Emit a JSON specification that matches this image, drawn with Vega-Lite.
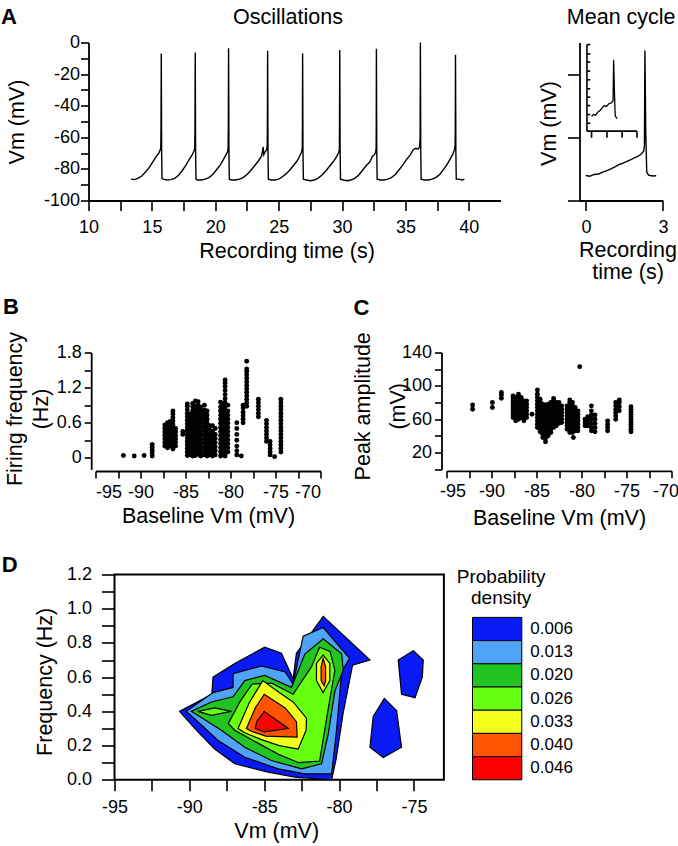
{
"$schema": "https://vega.github.io/schema/vega-lite/v6.json",
"padding": {"left": 0.5, "top": 5.5, "right": 0, "bottom": 0},
"background": "white",
"config": {
  "view": {"stroke": null},
  "font": "Liberation Sans",
  "axis": {"grid": false, "domainColor": "black", "domainWidth": 1.8, "tickColor": "black", "tickWidth": 1.6, "labelColor": "black", "titleColor": "black", "labelFontSize": 18, "titleFontSize": 21.5, "titleFontWeight": "normal", "labelFont": "Liberation Sans", "titleFont": "Liberation Sans", "labelOverlap": false, "labelFlush": false, "labelBound": false},
  "title": {"font": "Liberation Sans", "fontSize": 21.5, "fontWeight": "normal", "color": "black"}
},
"datasets": {
  "trace": [
{"t":13.35,"v":-86.5},{"t":13.6,"v":-86.8},{"t":13.9,"v":-86},{"t":14.2,"v":-84.5},{"t":14.5,"v":-82},{"t":14.8,"v":-79},{"t":15.0,"v":-76.5},{"t":15.2,"v":-74},{"t":15.4,"v":-71.5},{"t":15.55,"v":-70},{"t":15.65,"v":-68},{"t":15.7,"v":-66.5},{"t":15.72,"v":-55},{"t":15.74,"v":-7},{"t":15.77,"v":-70},{"t":15.8,"v":-86},
{"t":15.9,"v":-86.5},{"t":16.2,"v":-87},{"t":16.5,"v":-86.8},{"t":16.8,"v":-86},{"t":17.1,"v":-84},{"t":17.4,"v":-81},{"t":17.7,"v":-77.5},{"t":17.95,"v":-74},{"t":18.15,"v":-71.5},{"t":18.3,"v":-69},{"t":18.38,"v":-67},{"t":18.4,"v":-55},{"t":18.42,"v":-6.3},{"t":18.45,"v":-70},{"t":18.48,"v":-86.5},
{"t":18.6,"v":-87},{"t":18.9,"v":-87},{"t":19.2,"v":-86.5},{"t":19.5,"v":-85.5},{"t":19.8,"v":-83.5},{"t":20.1,"v":-80.5},{"t":20.4,"v":-77.5},{"t":20.65,"v":-74},{"t":20.85,"v":-71},{"t":20.98,"v":-69},{"t":21.01,"v":-67},{"t":21.03,"v":-55},{"t":21.05,"v":-3.6},{"t":21.08,"v":-70},{"t":21.11,"v":-86.5},
{"t":21.3,"v":-87},{"t":21.6,"v":-87},{"t":21.9,"v":-86.5},{"t":22.2,"v":-85.5},{"t":22.5,"v":-83.5},{"t":22.8,"v":-81},{"t":23.1,"v":-78},{"t":23.4,"v":-75},{"t":23.65,"v":-72},{"t":23.78,"v":-66},{"t":23.83,"v":-71},{"t":23.95,"v":-69},{"t":24.05,"v":-68},{"t":24.1,"v":-65},{"t":24.11,"v":-55},{"t":24.13,"v":-5.3},{"t":24.16,"v":-70},{"t":24.19,"v":-86.5},
{"t":24.4,"v":-87},{"t":24.7,"v":-87},{"t":25.0,"v":-86.5},{"t":25.3,"v":-85},{"t":25.6,"v":-83},{"t":25.9,"v":-80.5},{"t":26.2,"v":-77.5},{"t":26.45,"v":-75},{"t":26.65,"v":-72},{"t":26.8,"v":-69.5},{"t":26.86,"v":-67},{"t":26.875,"v":-55},{"t":26.89,"v":-6.8},{"t":26.92,"v":-70},{"t":26.95,"v":-86.5},
{"t":27.2,"v":-87},{"t":27.5,"v":-87.5},{"t":27.8,"v":-87},{"t":28.1,"v":-86},{"t":28.4,"v":-84},{"t":28.7,"v":-81.5},{"t":29.0,"v":-78.5},{"t":29.3,"v":-75.5},{"t":29.55,"v":-72.5},{"t":29.72,"v":-70},{"t":29.79,"v":-68},{"t":29.8,"v":-55},{"t":29.82,"v":-4.7},{"t":29.85,"v":-70},{"t":29.88,"v":-86.5},
{"t":30.1,"v":-87},{"t":30.4,"v":-87.5},{"t":30.7,"v":-87},{"t":31.0,"v":-86},{"t":31.3,"v":-84},{"t":31.6,"v":-81},{"t":31.9,"v":-78},{"t":32.2,"v":-75.5},{"t":32.4,"v":-72},{"t":32.55,"v":-71},{"t":32.65,"v":-69.5},{"t":32.69,"v":-67},{"t":32.7,"v":-55},{"t":32.71,"v":-4},{"t":32.74,"v":-70},{"t":32.77,"v":-86.5},
{"t":33.0,"v":-87},{"t":33.3,"v":-87},{"t":33.6,"v":-86.5},{"t":33.9,"v":-85.5},{"t":34.2,"v":-83.5},{"t":34.5,"v":-80.5},{"t":34.8,"v":-77.5},{"t":35.1,"v":-74},{"t":35.4,"v":-71},{"t":35.6,"v":-68},{"t":35.8,"v":-67},{"t":36.0,"v":-67.5},{"t":36.12,"v":-66},{"t":36.16,"v":-60},{"t":36.18,"v":0},{"t":36.21,"v":-70},{"t":36.24,"v":-86.5},
{"t":36.5,"v":-87},{"t":36.8,"v":-87},{"t":37.1,"v":-86.5},{"t":37.4,"v":-85.5},{"t":37.7,"v":-83.5},{"t":38.0,"v":-80.5},{"t":38.3,"v":-77},{"t":38.55,"v":-73.5},{"t":38.75,"v":-70.5},{"t":38.88,"v":-67.5},{"t":38.92,"v":-65},{"t":38.935,"v":-55},{"t":38.95,"v":-7.8},{"t":38.98,"v":-70},{"t":39.01,"v":-86.5},{"t":39.2,"v":-86.5},{"t":39.5,"v":-87},{"t":39.65,"v":-86.5}
  ],
  "mean": [
{"t":0,"v":-84.2},{"t":0.15,"v":-84.6},{"t":0.32,"v":-83.5},{"t":0.5,"v":-83.2},{"t":0.65,"v":-82.1},{"t":0.8,"v":-81.2},{"t":0.97,"v":-80},{"t":1.15,"v":-78.6},{"t":1.3,"v":-77.2},{"t":1.45,"v":-76.3},{"t":1.62,"v":-75.1},{"t":1.75,"v":-74.2},{"t":1.88,"v":-73},{"t":2.0,"v":-72.2},{"t":2.14,"v":-70.9},{"t":2.25,"v":-68.8},{"t":2.28,"v":-65.5},{"t":2.3,"v":-5.1},{"t":2.33,"v":-55},{"t":2.37,"v":-82},{"t":2.44,"v":-84},{"t":2.6,"v":-84.5},{"t":2.74,"v":-84.3}
  ],
  "inset": [
{"t":0.22,"v":-46.8},{"t":0.3,"v":-45.5},{"t":0.38,"v":-46},{"t":0.46,"v":-44.1},{"t":0.55,"v":-43},{"t":0.63,"v":-41.5},{"t":0.71,"v":-39.9},{"t":0.8,"v":-40.5},{"t":0.9,"v":-38.6},{"t":0.97,"v":-38.4},{"t":1.03,"v":-37.5},{"t":1.06,"v":-36.7},{"t":1.08,"v":-11},{"t":1.11,"v":-30},{"t":1.14,"v":-46.2},{"t":1.21,"v":-48.3}
  ],
  "insetAxes": [
{"t":0.04,"v":-1.3,"t2":0.04,"v2":-56.1},
{"t":0.04,"v":-56.1,"t2":1.99,"v2":-56.1},
{"t":0.22,"v":-56.1,"t2":0.22,"v2":-60.3},
{"t":0.82,"v":-56.1,"t2":0.82,"v2":-60.3},
{"t":1.41,"v":-56.1,"t2":1.41,"v2":-60.3},
{"t":1.99,"v":-56.1,"t2":1.99,"v2":-60.3},
{"t":0.04,"v":-1.3,"t2":0.17,"v2":-1.3},
{"t":0.04,"v":-7.2,"t2":0.17,"v2":-7.2},
{"t":0.04,"v":-12.4,"t2":0.17,"v2":-12.4},
{"t":0.04,"v":-18.1,"t2":0.17,"v2":-18.1},
{"t":0.04,"v":-23.6,"t2":0.17,"v2":-23.6},
{"t":0.04,"v":-29.3,"t2":0.17,"v2":-29.3},
{"t":0.04,"v":-34.6,"t2":0.17,"v2":-34.6},
{"t":0.04,"v":-39.9,"t2":0.17,"v2":-39.9},
{"t":0.04,"v":-45.6,"t2":0.17,"v2":-45.6},
{"t":0.04,"v":-51.1,"t2":0.17,"v2":-51.1}
  ],
  "freq": [
{"v":-91.9,"f":0.04},{"v":-90.7,"f":0.03},{"v":-89.6,"f":0.04},
{"v":-88.7,"f":0.03},{"v":-88.7,"f":0.08},{"v":-88.7,"f":0.13},{"v":-88.7,"f":0.18},{"v":-88.7,"f":0.23},
{"v":-87.3,"f":0.2},{"v":-87.3,"f":0.26},{"v":-87.3,"f":0.32},{"v":-87.3,"f":0.38},{"v":-87.3,"f":0.44},{"v":-87.3,"f":0.5},{"v":-87.3,"f":0.56},
{"v":-87.0,"f":0.17},{"v":-87.0,"f":0.23},{"v":-87.0,"f":0.29},{"v":-87.0,"f":0.35},{"v":-87.0,"f":0.41},{"v":-87.0,"f":0.47},{"v":-87.0,"f":0.53},{"v":-87.0,"f":0.6},
{"v":-86.7,"f":0.2},{"v":-86.7,"f":0.26},{"v":-86.7,"f":0.32},{"v":-86.7,"f":0.38},{"v":-86.7,"f":0.44},{"v":-86.7,"f":0.5},{"v":-86.7,"f":0.56},{"v":-86.7,"f":0.62},
{"v":-86.4,"f":0.15},{"v":-86.4,"f":0.21},{"v":-86.4,"f":0.27},{"v":-86.4,"f":0.33},{"v":-86.4,"f":0.39},{"v":-86.4,"f":0.45},{"v":-86.4,"f":0.51},{"v":-86.4,"f":0.57},{"v":-86.4,"f":0.63},{"v":-86.4,"f":0.69},{"v":-86.4,"f":0.75},{"v":-86.4,"f":0.8},
{"v":-86.1,"f":0.2},{"v":-86.1,"f":0.26},{"v":-86.1,"f":0.32},{"v":-86.1,"f":0.38},{"v":-86.1,"f":0.44},{"v":-86.1,"f":0.5},
{"v":-85.3,"f":0.4},{"v":-85.3,"f":0.45},
{"v":-84.8,"f":0.04},{"v":-84.8,"f":0.1},{"v":-84.8,"f":0.16},{"v":-84.8,"f":0.22},{"v":-84.8,"f":0.28},{"v":-84.8,"f":0.34},{"v":-84.8,"f":0.4},{"v":-84.8,"f":0.46},{"v":-84.8,"f":0.52},{"v":-84.8,"f":0.58},{"v":-84.8,"f":0.64},{"v":-84.8,"f":0.7},{"v":-84.8,"f":0.76},{"v":-84.8,"f":0.82},{"v":-84.8,"f":0.88},{"v":-84.8,"f":0.92},
{"v":-84.5,"f":0.05},{"v":-84.5,"f":0.12},{"v":-84.5,"f":0.19},{"v":-84.5,"f":0.26},{"v":-84.5,"f":0.33},{"v":-84.5,"f":0.4},{"v":-84.5,"f":0.47},{"v":-84.5,"f":0.54},{"v":-84.5,"f":0.61},{"v":-84.5,"f":0.68},{"v":-84.5,"f":0.75},
{"v":-84.2,"f":0.03},{"v":-84.2,"f":0.1},{"v":-84.2,"f":0.17},{"v":-84.2,"f":0.24},{"v":-84.2,"f":0.31},{"v":-84.2,"f":0.38},{"v":-84.2,"f":0.45},{"v":-84.2,"f":0.52},{"v":-84.2,"f":0.59},{"v":-84.2,"f":0.66},{"v":-84.2,"f":0.73},{"v":-84.2,"f":0.8},{"v":-84.2,"f":0.87},{"v":-84.2,"f":0.93},
{"v":-83.9,"f":0.04},{"v":-83.9,"f":0.11},{"v":-83.9,"f":0.18},{"v":-83.9,"f":0.25},{"v":-83.9,"f":0.32},{"v":-83.9,"f":0.39},{"v":-83.9,"f":0.46},{"v":-83.9,"f":0.53},{"v":-83.9,"f":0.6},{"v":-83.9,"f":0.67},{"v":-83.9,"f":0.74},{"v":-83.9,"f":0.81},{"v":-83.9,"f":0.88},{"v":-83.9,"f":0.97},
{"v":-83.6,"f":0.06},{"v":-83.6,"f":0.13},{"v":-83.6,"f":0.2},{"v":-83.6,"f":0.27},{"v":-83.6,"f":0.34},{"v":-83.6,"f":0.41},{"v":-83.6,"f":0.48},{"v":-83.6,"f":0.55},{"v":-83.6,"f":0.62},{"v":-83.6,"f":0.69},{"v":-83.6,"f":0.76},{"v":-83.6,"f":0.83},{"v":-83.6,"f":0.9},{"v":-83.6,"f":0.96},
{"v":-83.3,"f":0.03},{"v":-83.3,"f":0.1},{"v":-83.3,"f":0.17},{"v":-83.3,"f":0.24},{"v":-83.3,"f":0.31},{"v":-83.3,"f":0.38},{"v":-83.3,"f":0.45},{"v":-83.3,"f":0.52},{"v":-83.3,"f":0.59},{"v":-83.3,"f":0.66},{"v":-83.3,"f":0.73},{"v":-83.3,"f":0.8},{"v":-83.3,"f":0.87},
{"v":-82.9,"f":0.05},{"v":-82.9,"f":0.12},{"v":-82.9,"f":0.19},{"v":-82.9,"f":0.26},{"v":-82.9,"f":0.33},{"v":-82.9,"f":0.4},{"v":-82.9,"f":0.47},{"v":-82.9,"f":0.54},{"v":-82.9,"f":0.61},{"v":-82.9,"f":0.68},{"v":-82.9,"f":0.75},{"v":-82.9,"f":0.82},{"v":-82.9,"f":0.9},
{"v":-82.6,"f":0.03},{"v":-82.6,"f":0.1},{"v":-82.6,"f":0.17},{"v":-82.6,"f":0.24},{"v":-82.6,"f":0.31},{"v":-82.6,"f":0.38},{"v":-82.6,"f":0.45},{"v":-82.6,"f":0.52},{"v":-82.6,"f":0.59},{"v":-82.6,"f":0.66},{"v":-82.6,"f":0.73},{"v":-82.6,"f":0.8},
{"v":-82.3,"f":0.05},{"v":-82.3,"f":0.12},{"v":-82.3,"f":0.19},{"v":-82.3,"f":0.26},{"v":-82.3,"f":0.33},{"v":-82.3,"f":0.4},{"v":-82.3,"f":0.47},{"v":-82.3,"f":0.55},
{"v":-82.0,"f":0.03},{"v":-82.0,"f":0.1},{"v":-82.0,"f":0.17},{"v":-82.0,"f":0.24},{"v":-82.0,"f":0.31},{"v":-82.0,"f":0.38},{"v":-82.0,"f":0.45},{"v":-82.0,"f":0.55},
{"v":-81.7,"f":0.05},{"v":-81.7,"f":0.12},{"v":-81.7,"f":0.19},{"v":-81.7,"f":0.26},{"v":-81.7,"f":0.33},{"v":-81.7,"f":0.4},{"v":-81.7,"f":0.5},
{"v":-81.1,"f":0.03},{"v":-81.1,"f":0.1},{"v":-81.1,"f":0.17},{"v":-81.1,"f":0.24},{"v":-81.1,"f":0.31},{"v":-81.1,"f":0.38},{"v":-81.1,"f":0.45},{"v":-81.1,"f":0.52},{"v":-81.1,"f":0.59},{"v":-81.1,"f":0.66},{"v":-81.1,"f":0.73},{"v":-81.1,"f":0.8},{"v":-81.1,"f":0.87},{"v":-81.1,"f":0.95},
{"v":-80.9,"f":0.05},{"v":-80.9,"f":0.12},{"v":-80.9,"f":0.19},{"v":-80.9,"f":0.26},{"v":-80.9,"f":0.33},{"v":-80.9,"f":0.4},{"v":-80.9,"f":0.47},{"v":-80.9,"f":0.54},{"v":-80.9,"f":0.61},{"v":-80.9,"f":0.68},{"v":-80.9,"f":0.75},{"v":-80.9,"f":0.82},{"v":-80.9,"f":0.9},
{"v":-80.6,"f":0.03},{"v":-80.6,"f":0.1},{"v":-80.6,"f":0.17},{"v":-80.6,"f":0.24},{"v":-80.6,"f":0.31},{"v":-80.6,"f":0.38},{"v":-80.6,"f":0.45},{"v":-80.6,"f":0.52},{"v":-80.6,"f":0.59},{"v":-80.6,"f":0.66},{"v":-80.6,"f":0.73},{"v":-80.6,"f":0.8},{"v":-80.6,"f":0.87},{"v":-80.6,"f":0.94},{"v":-80.6,"f":1.01},{"v":-80.6,"f":1.08},{"v":-80.6,"f":1.15},{"v":-80.6,"f":1.22},{"v":-80.6,"f":1.28},{"v":-80.6,"f":1.33},
{"v":-80.3,"f":0.1},{"v":-80.3,"f":0.17},{"v":-80.3,"f":0.24},{"v":-80.3,"f":0.31},{"v":-80.3,"f":0.38},{"v":-80.3,"f":0.45},{"v":-80.3,"f":0.52},{"v":-80.3,"f":0.59},{"v":-80.3,"f":0.66},{"v":-80.3,"f":0.73},{"v":-80.3,"f":0.8},{"v":-80.3,"f":0.9},
{"v":-79.3,"f":0.05},{"v":-79.3,"f":0.12},{"v":-79.3,"f":0.2},{"v":-79.3,"f":0.3},{"v":-79.3,"f":0.4},{"v":-79.3,"f":0.5},{"v":-79.3,"f":0.6},
{"v":-78.8,"f":0.03},
{"v":-78.6,"f":0.6},{"v":-78.6,"f":0.66},{"v":-78.6,"f":0.72},{"v":-78.6,"f":0.78},{"v":-78.6,"f":0.85},{"v":-78.6,"f":0.9},
{"v":-78.2,"f":0.88},{"v":-78.2,"f":0.94},{"v":-78.2,"f":1.0},{"v":-78.2,"f":1.06},{"v":-78.2,"f":1.12},{"v":-78.2,"f":1.18},{"v":-78.2,"f":1.24},{"v":-78.2,"f":1.3},{"v":-78.2,"f":1.36},{"v":-78.2,"f":1.42},{"v":-78.2,"f":1.48},{"v":-78.2,"f":1.52},{"v":-78.2,"f":1.65},
{"v":-76.9,"f":0.7},{"v":-76.9,"f":0.76},{"v":-76.9,"f":0.82},{"v":-76.9,"f":0.88},{"v":-76.9,"f":0.94},{"v":-76.9,"f":1.0},
{"v":-76.0,"f":0.28},{"v":-76.0,"f":0.34},{"v":-76.0,"f":0.4},{"v":-76.0,"f":0.46},{"v":-76.0,"f":0.52},{"v":-76.0,"f":0.58},{"v":-76.0,"f":0.64},
{"v":-75.6,"f":0.05},{"v":-75.6,"f":0.1},{"v":-75.6,"f":0.16},{"v":-75.6,"f":0.22},{"v":-75.6,"f":0.28},
{"v":-75.1,"f":0.02},
{"v":-74.4,"f":0.1},{"v":-74.4,"f":0.16},{"v":-74.4,"f":0.22},{"v":-74.4,"f":0.28},{"v":-74.4,"f":0.34},{"v":-74.4,"f":0.4},{"v":-74.4,"f":0.46},{"v":-74.4,"f":0.52},{"v":-74.4,"f":0.58},{"v":-74.4,"f":0.64},{"v":-74.4,"f":0.7},{"v":-74.4,"f":0.76},{"v":-74.4,"f":0.82},{"v":-74.4,"f":0.88},{"v":-74.4,"f":0.94},{"v":-74.4,"f":1.0}
  ],
  "amp": [
{"v":-92.1,"a":72},{"v":-92.1,"a":77},{"v":-89.9,"a":74},{"v":-89.9,"a":80},{"v":-88.9,"a":85},{"v":-88.9,"a":89},{"v":-88.9,"a":92},
{"v":-87.6,"a":62},{"v":-87.6,"a":65},{"v":-87.6,"a":68},{"v":-87.6,"a":71},{"v":-87.6,"a":74},{"v":-87.6,"a":77},{"v":-87.6,"a":80},{"v":-87.6,"a":83},{"v":-87.6,"a":86},{"v":-87.6,"a":88},
{"v":-87.3,"a":58},{"v":-87.3,"a":61},{"v":-87.3,"a":64},{"v":-87.3,"a":67},{"v":-87.3,"a":70},{"v":-87.3,"a":73},{"v":-87.3,"a":76},{"v":-87.3,"a":79},{"v":-87.3,"a":82},{"v":-87.3,"a":86},
{"v":-87.0,"a":60},{"v":-87.0,"a":63},{"v":-87.0,"a":66},{"v":-87.0,"a":69},{"v":-87.0,"a":72},{"v":-87.0,"a":75},{"v":-87.0,"a":78},{"v":-87.0,"a":81},{"v":-87.0,"a":84},{"v":-87.0,"a":87},{"v":-87.0,"a":90},
{"v":-86.7,"a":62},{"v":-86.7,"a":65},{"v":-86.7,"a":68},{"v":-86.7,"a":71},{"v":-86.7,"a":74},{"v":-86.7,"a":77},{"v":-86.7,"a":80},{"v":-86.7,"a":83},{"v":-86.7,"a":86},
{"v":-86.4,"a":58},{"v":-86.4,"a":61},{"v":-86.4,"a":64},{"v":-86.4,"a":67},{"v":-86.4,"a":70},{"v":-86.4,"a":73},{"v":-86.4,"a":76},{"v":-86.4,"a":79},{"v":-86.4,"a":82},
{"v":-86.1,"a":62},{"v":-86.1,"a":66},{"v":-86.1,"a":70},{"v":-86.1,"a":74},{"v":-86.1,"a":78},{"v":-86.1,"a":82},
{"v":-85.5,"a":66},
{"v":-84.9,"a":50},{"v":-84.9,"a":54},{"v":-84.9,"a":58},{"v":-84.9,"a":62},{"v":-84.9,"a":66},{"v":-84.9,"a":70},{"v":-84.9,"a":74},{"v":-84.9,"a":78},{"v":-84.9,"a":82},{"v":-84.9,"a":86},{"v":-84.9,"a":90},{"v":-84.9,"a":95},
{"v":-84.6,"a":45},{"v":-84.6,"a":49},{"v":-84.6,"a":53},{"v":-84.6,"a":57},{"v":-84.6,"a":61},{"v":-84.6,"a":65},{"v":-84.6,"a":69},{"v":-84.6,"a":73},{"v":-84.6,"a":77},{"v":-84.6,"a":81},{"v":-84.6,"a":84},
{"v":-84.3,"a":38},{"v":-84.3,"a":42},{"v":-84.3,"a":46},{"v":-84.3,"a":50},{"v":-84.3,"a":54},{"v":-84.3,"a":58},{"v":-84.3,"a":62},{"v":-84.3,"a":66},{"v":-84.3,"a":70},{"v":-84.3,"a":74},{"v":-84.3,"a":78},
{"v":-84.0,"a":33},{"v":-84.0,"a":37},{"v":-84.0,"a":41},{"v":-84.0,"a":45},{"v":-84.0,"a":49},{"v":-84.0,"a":53},{"v":-84.0,"a":57},{"v":-84.0,"a":61},{"v":-84.0,"a":65},{"v":-84.0,"a":69},{"v":-84.0,"a":73},{"v":-84.0,"a":77},
{"v":-83.7,"a":40},{"v":-83.7,"a":44},{"v":-83.7,"a":48},{"v":-83.7,"a":52},{"v":-83.7,"a":56},{"v":-83.7,"a":60},{"v":-83.7,"a":64},{"v":-83.7,"a":68},{"v":-83.7,"a":72},{"v":-83.7,"a":76},{"v":-83.7,"a":78},
{"v":-83.4,"a":44},{"v":-83.4,"a":48},{"v":-83.4,"a":52},{"v":-83.4,"a":56},{"v":-83.4,"a":60},{"v":-83.4,"a":64},{"v":-83.4,"a":68},{"v":-83.4,"a":72},{"v":-83.4,"a":76},{"v":-83.4,"a":80},
{"v":-83.1,"a":50},{"v":-83.1,"a":54},{"v":-83.1,"a":58},{"v":-83.1,"a":62},{"v":-83.1,"a":66},{"v":-83.1,"a":70},{"v":-83.1,"a":74},{"v":-83.1,"a":78},{"v":-83.1,"a":82},{"v":-83.1,"a":85},
{"v":-82.8,"a":52},{"v":-82.8,"a":56},{"v":-82.8,"a":60},{"v":-82.8,"a":64},{"v":-82.8,"a":68},{"v":-82.8,"a":72},{"v":-82.8,"a":76},{"v":-82.8,"a":80},
{"v":-82.5,"a":55},{"v":-82.5,"a":59},{"v":-82.5,"a":63},{"v":-82.5,"a":67},{"v":-82.5,"a":71},{"v":-82.5,"a":75},{"v":-82.5,"a":80},
{"v":-82.2,"a":56},{"v":-82.2,"a":60},{"v":-82.2,"a":64},{"v":-82.2,"a":68},{"v":-82.2,"a":72},{"v":-82.2,"a":76},
{"v":-81.6,"a":48},{"v":-81.6,"a":52},{"v":-81.6,"a":56},{"v":-81.6,"a":60},{"v":-81.6,"a":64},{"v":-81.6,"a":68},{"v":-81.6,"a":72},{"v":-81.6,"a":76},
{"v":-81.3,"a":44},{"v":-81.3,"a":48},{"v":-81.3,"a":52},{"v":-81.3,"a":56},{"v":-81.3,"a":60},{"v":-81.3,"a":64},{"v":-81.3,"a":68},{"v":-81.3,"a":72},{"v":-81.3,"a":76},{"v":-81.3,"a":80},{"v":-81.3,"a":83},
{"v":-81.0,"a":44},{"v":-81.0,"a":48},{"v":-81.0,"a":52},{"v":-81.0,"a":56},{"v":-81.0,"a":60},{"v":-81.0,"a":64},{"v":-81.0,"a":68},{"v":-81.0,"a":72},{"v":-81.0,"a":76},{"v":-81.0,"a":80},
{"v":-80.9,"a":38},
{"v":-80.7,"a":46},{"v":-80.7,"a":50},{"v":-80.7,"a":54},{"v":-80.7,"a":58},{"v":-80.7,"a":62},{"v":-80.7,"a":66},{"v":-80.7,"a":70},{"v":-80.7,"a":74},
{"v":-80.4,"a":46},{"v":-80.4,"a":50},{"v":-80.4,"a":54},{"v":-80.4,"a":58},{"v":-80.4,"a":62},{"v":-80.4,"a":66},{"v":-80.4,"a":70},
{"v":-80.2,"a":123},
{"v":-79.6,"a":52},{"v":-79.6,"a":56},{"v":-79.6,"a":60},
{"v":-79.3,"a":52},{"v":-79.3,"a":56},{"v":-79.3,"a":60},{"v":-79.3,"a":63},
{"v":-78.9,"a":46},{"v":-78.9,"a":50},{"v":-78.9,"a":55},{"v":-78.9,"a":60},{"v":-78.9,"a":65},{"v":-78.9,"a":70},{"v":-78.9,"a":76},
{"v":-78.5,"a":45},{"v":-78.5,"a":50},{"v":-78.5,"a":55},{"v":-78.5,"a":60},{"v":-78.5,"a":65},
{"v":-77.1,"a":46},{"v":-77.1,"a":50},{"v":-77.1,"a":54},{"v":-77.1,"a":58},
{"v":-76.2,"a":60},{"v":-76.2,"a":64},{"v":-76.2,"a":68},{"v":-76.2,"a":72},{"v":-76.2,"a":76},{"v":-76.2,"a":80},
{"v":-75.8,"a":70},{"v":-75.8,"a":75},{"v":-75.8,"a":80},{"v":-75.8,"a":83},
{"v":-74.5,"a":45},{"v":-74.5,"a":48},{"v":-74.5,"a":51},{"v":-74.5,"a":54},{"v":-74.5,"a":57},{"v":-74.5,"a":60},{"v":-74.5,"a":63},{"v":-74.5,"a":66},{"v":-74.5,"a":69},{"v":-74.5,"a":72},{"v":-74.5,"a":75}
  ],
  "contour": [
{"l":"0.006","p":"b0","i":0,"x":-90.65,"y":0.40},{"l":"0.006","p":"b0","i":1,"x":-88.5,"y":0.50},{"l":"0.006","p":"b0","i":2,"x":-88.42,"y":0.60},{"l":"0.006","p":"b0","i":3,"x":-86.97,"y":0.68},{"l":"0.006","p":"b0","i":4,"x":-84.97,"y":0.775},{"l":"0.006","p":"b0","i":5,"x":-83.85,"y":0.74},{"l":"0.006","p":"b0","i":6,"x":-83.07,"y":0.59},{"l":"0.006","p":"b0","i":7,"x":-82.85,"y":0.74},{"l":"0.006","p":"b0","i":8,"x":-81.06,"y":0.955},{"l":"0.006","p":"b0","i":9,"x":-77.94,"y":0.70},{"l":"0.006","p":"b0","i":10,"x":-79.1,"y":0.67},{"l":"0.006","p":"b0","i":11,"x":-79.73,"y":0.39},{"l":"0.006","p":"b0","i":12,"x":-80.2,"y":0.12},{"l":"0.006","p":"b0","i":13,"x":-80.5,"y":0.0},{"l":"0.006","p":"b0","i":14,"x":-82.96,"y":0.016},{"l":"0.006","p":"b0","i":15,"x":-84.74,"y":0.045},{"l":"0.006","p":"b0","i":16,"x":-86.97,"y":0.094},{"l":"0.006","p":"b0","i":17,"x":-88.31,"y":0.18},{"l":"0.006","p":"b0","i":18,"x":-89.43,"y":0.28},
{"l":"0.006","p":"b1","i":0,"x":-76.05,"y":0.70},{"l":"0.006","p":"b1","i":1,"x":-75.04,"y":0.755},{"l":"0.006","p":"b1","i":2,"x":-74.38,"y":0.70},{"l":"0.006","p":"b1","i":3,"x":-74.44,"y":0.60},{"l":"0.006","p":"b1","i":4,"x":-74.93,"y":0.48},{"l":"0.006","p":"b1","i":5,"x":-75.83,"y":0.50},
{"l":"0.006","p":"b2","i":0,"x":-76.98,"y":0.475},{"l":"0.006","p":"b2","i":1,"x":-76.16,"y":0.405},{"l":"0.006","p":"b2","i":2,"x":-75.83,"y":0.19},{"l":"0.006","p":"b2","i":3,"x":-77.05,"y":0.13},{"l":"0.006","p":"b2","i":4,"x":-77.94,"y":0.19},{"l":"0.006","p":"b2","i":5,"x":-77.72,"y":0.37},
{"l":"0.013","p":"lb","i":0,"x":-90.2,"y":0.40},{"l":"0.013","p":"lb","i":1,"x":-88.42,"y":0.51},{"l":"0.013","p":"lb","i":2,"x":-87.08,"y":0.54},{"l":"0.013","p":"lb","i":3,"x":-87.08,"y":0.62},{"l":"0.013","p":"lb","i":4,"x":-85.19,"y":0.665},{"l":"0.013","p":"lb","i":5,"x":-83.6,"y":0.63},{"l":"0.013","p":"lb","i":6,"x":-83.07,"y":0.56},{"l":"0.013","p":"lb","i":7,"x":-82.4,"y":0.84},{"l":"0.013","p":"lb","i":8,"x":-81.06,"y":0.89},{"l":"0.013","p":"lb","i":9,"x":-79.3,"y":0.71},{"l":"0.013","p":"lb","i":10,"x":-79.83,"y":0.63},{"l":"0.013","p":"lb","i":11,"x":-80.17,"y":0.29},{"l":"0.013","p":"lb","i":12,"x":-80.5,"y":0.035},{"l":"0.013","p":"lb","i":13,"x":-82.29,"y":0.035},{"l":"0.013","p":"lb","i":14,"x":-84.07,"y":0.064},{"l":"0.013","p":"lb","i":15,"x":-86.3,"y":0.132},{"l":"0.013","p":"lb","i":16,"x":-88.08,"y":0.23},{"l":"0.013","p":"lb","i":17,"x":-89.65,"y":0.357},
{"l":"0.020","p":"g","i":0,"x":-89.87,"y":0.40},{"l":"0.020","p":"g","i":1,"x":-88.53,"y":0.455},{"l":"0.020","p":"g","i":2,"x":-87.08,"y":0.485},{"l":"0.020","p":"g","i":3,"x":-86.3,"y":0.58},{"l":"0.020","p":"g","i":4,"x":-84.97,"y":0.61},{"l":"0.020","p":"g","i":5,"x":-83.18,"y":0.54},{"l":"0.020","p":"g","i":6,"x":-82.29,"y":0.735},{"l":"0.020","p":"g","i":7,"x":-81.06,"y":0.824},{"l":"0.020","p":"g","i":8,"x":-79.83,"y":0.736},{"l":"0.020","p":"g","i":9,"x":-79.72,"y":0.64},{"l":"0.020","p":"g","i":10,"x":-80.28,"y":0.52},{"l":"0.020","p":"g","i":11,"x":-80.72,"y":0.27},{"l":"0.020","p":"g","i":12,"x":-81.17,"y":0.094},{"l":"0.020","p":"g","i":13,"x":-82.5,"y":0.064},{"l":"0.020","p":"g","i":14,"x":-84.52,"y":0.113},{"l":"0.020","p":"g","i":15,"x":-86.3,"y":0.19},{"l":"0.020","p":"g","i":16,"x":-87.86,"y":0.29},{"l":"0.020","p":"g","i":17,"x":-89.42,"y":0.376},
{"l":"0.026","p":"lg","i":0,"x":-87.4,"y":0.33},{"l":"0.026","p":"lg","i":1,"x":-86.6,"y":0.46},{"l":"0.026","p":"lg","i":2,"x":-85.8,"y":0.56},{"l":"0.026","p":"lg","i":3,"x":-84.5,"y":0.565},{"l":"0.026","p":"lg","i":4,"x":-83.07,"y":0.50},{"l":"0.026","p":"lg","i":5,"x":-81.85,"y":0.66},{"l":"0.026","p":"lg","i":6,"x":-81.3,"y":0.775},{"l":"0.026","p":"lg","i":7,"x":-80.6,"y":0.75},{"l":"0.026","p":"lg","i":8,"x":-80.28,"y":0.64},{"l":"0.026","p":"lg","i":9,"x":-80.6,"y":0.48},{"l":"0.026","p":"lg","i":10,"x":-81.0,"y":0.27},{"l":"0.026","p":"lg","i":11,"x":-81.3,"y":0.11},{"l":"0.026","p":"lg","i":12,"x":-82.7,"y":0.10},{"l":"0.026","p":"lg","i":13,"x":-84.07,"y":0.15},{"l":"0.026","p":"lg","i":14,"x":-85.75,"y":0.23},{"l":"0.026","p":"lg","i":15,"x":-86.97,"y":0.29},
{"l":"0.026","p":"lg2","i":0,"x":-89.43,"y":0.40},{"l":"0.026","p":"lg2","i":1,"x":-88.31,"y":0.42},{"l":"0.026","p":"lg2","i":2,"x":-87.2,"y":0.40},{"l":"0.026","p":"lg2","i":3,"x":-88.53,"y":0.377},
{"l":"0.033","p":"y","i":0,"x":-86.75,"y":0.30},{"l":"0.033","p":"y","i":1,"x":-86.0,"y":0.45},{"l":"0.033","p":"y","i":2,"x":-85.1,"y":0.58},{"l":"0.033","p":"y","i":3,"x":-84.0,"y":0.51},{"l":"0.033","p":"y","i":4,"x":-83.07,"y":0.455},{"l":"0.033","p":"y","i":5,"x":-82.18,"y":0.36},{"l":"0.033","p":"y","i":6,"x":-82.2,"y":0.29},{"l":"0.033","p":"y","i":7,"x":-82.73,"y":0.18},{"l":"0.033","p":"y","i":8,"x":-84.0,"y":0.20},{"l":"0.033","p":"y","i":9,"x":-85.19,"y":0.235},{"l":"0.033","p":"y","i":10,"x":-86.3,"y":0.275},
{"l":"0.033","p":"y2","i":0,"x":-81.07,"y":0.73},{"l":"0.033","p":"y2","i":1,"x":-80.62,"y":0.68},{"l":"0.033","p":"y2","i":2,"x":-80.62,"y":0.58},{"l":"0.033","p":"y2","i":3,"x":-81.07,"y":0.51},{"l":"0.033","p":"y2","i":4,"x":-81.51,"y":0.58},{"l":"0.033","p":"y2","i":5,"x":-81.51,"y":0.68},
{"l":"0.040","p":"o","i":0,"x":-86.19,"y":0.30},{"l":"0.040","p":"o","i":1,"x":-85.6,"y":0.42},{"l":"0.040","p":"o","i":2,"x":-85.0,"y":0.50},{"l":"0.040","p":"o","i":3,"x":-83.6,"y":0.42},{"l":"0.040","p":"o","i":4,"x":-82.85,"y":0.34},{"l":"0.040","p":"o","i":5,"x":-82.8,"y":0.25},{"l":"0.040","p":"o","i":6,"x":-84.9,"y":0.255},{"l":"0.040","p":"o","i":7,"x":-85.9,"y":0.285},
{"l":"0.040","p":"o2","i":0,"x":-81.07,"y":0.71},{"l":"0.040","p":"o2","i":1,"x":-80.9,"y":0.66},{"l":"0.040","p":"o2","i":2,"x":-80.9,"y":0.58},{"l":"0.040","p":"o2","i":3,"x":-81.0,"y":0.55},{"l":"0.040","p":"o2","i":4,"x":-81.2,"y":0.58},{"l":"0.040","p":"o2","i":5,"x":-81.2,"y":0.66},
{"l":"0.046","p":"r","i":0,"x":-85.0,"y":0.40},{"l":"0.046","p":"r","i":1,"x":-83.4,"y":0.30},{"l":"0.046","p":"r","i":2,"x":-85.0,"y":0.28},{"l":"0.046","p":"r","i":3,"x":-85.6,"y":0.30},{"l":"0.046","p":"r","i":4,"x":-85.5,"y":0.34}
  ],
  "levels": [{"l":"0.006"},{"l":"0.013"},{"l":"0.020"},{"l":"0.026"},{"l":"0.033"},{"l":"0.040"},{"l":"0.046"}],
  "none": []
},
"spacing": 24,
"vconcat": [
 {
  "spacing": 12,
  "vconcat": [
   {
    "bounds": "flush",
    "spacing": 0,
    "hconcat": [
     {
      "width": 412, "height": 158,
      "title": {"text": "A", "anchor": "start", "frame": "group", "dx": -87.5, "fontSize": 22, "fontWeight": "bold", "baseline": "alphabetic", "offset": -39},
      "data": {"name": "trace"},
      "layer": [
       {"mark": {"type": "line", "color": "black", "strokeWidth": 1.4},
        "encoding": {
         "x": {"field": "t", "type": "quantitative", "scale": {"domain": [10, 42.5], "nice": false, "zero": false},
               "axis": {"values": [10,12.5,15,17.5,20,22.5,25,27.5,30,32.5,35,37.5,40], "labelExpr": "datum.value % 5 == 0 ? '' + datum.value : ''", "tickSize": 10, "labelPadding": 8, "title": "Recording time (s)", "titleX": 198, "titleY": 57, "titleBaseline": "alphabetic"}},
         "y": {"field": "v", "type": "quantitative", "scale": {"domain": [-100, 0], "nice": false, "zero": false},
               "axis": {"values": [-100,-90,-80,-70,-60,-50,-40,-30,-20,-10,0], "labelExpr": "datum.value % 20 == 0 ? '' + datum.value : ''", "tickSize": 8, "labelPadding": 1, "title": "Vm (mV)", "titleX": -65.3, "titleY": 79, "titleBaseline": "alphabetic"}}
        }},
       {"mark": {"type": "point", "opacity": 0},
        "encoding": {
         "x": {"field": "t", "type": "quantitative", "axis": {"orient": "top", "domain": false, "ticks": false, "labels": false, "title": "Oscillations", "titleX": 199, "titleY": -19, "titleBaseline": "alphabetic"}}
        }}
      ],
      "resolve": {"axis": {"x": "independent"}}
     },
     {"data": {"name": "none"}, "mark": "point", "encoding": {}, "width": 78.6, "height": 1},
     {
      "width": 83.4, "height": 158,
      "title": {"text": "Mean cycle", "anchor": "middle", "frame": "group", "baseline": "alphabetic", "offset": -3},
      "layer": [
       {"data": {"name": "mean"},
        "mark": {"type": "line", "color": "black", "strokeWidth": 1.4},
        "encoding": {
         "x": {"field": "t", "type": "quantitative", "scale": {"domain": [-0.25, 3], "nice": false, "zero": false},
               "axis": {"values": [0,1,2,3], "labelExpr": "'' + datum.value", "tickSize": 10, "labelPadding": 8, "title": ["Recording", "time (s)"], "titleX": 48, "titleY": 56, "titleBaseline": "alphabetic", "titleLineHeight": 22}},
         "y": {"field": "v", "type": "quantitative", "scale": {"domain": [-100, 0], "nice": false, "zero": false},
               "axis": {"values": [-100,-90,-80,-70,-60,-50,-40,-30,-20,-10,0], "labels": false, "tickSize": {"condition": {"test": "datum.value % 20 == 0", "value": 12}, "value": 7}, "title": "Vm (mV)", "titleX": -24.3, "titleY": 80.5, "titleBaseline": "alphabetic"}}
        }},
       {"data": {"name": "inset"},
        "mark": {"type": "line", "color": "black", "strokeWidth": 1.3},
        "encoding": {"x": {"field": "t", "type": "quantitative"}, "y": {"field": "v", "type": "quantitative"}}},
       {"data": {"name": "insetAxes"},
        "mark": {"type": "rule", "color": "black", "strokeWidth": 1.6},
        "encoding": {"x": {"field": "t", "type": "quantitative"}, "y": {"field": "v", "type": "quantitative"}, "x2": {"field": "t2"}, "y2": {"field": "v2"}}}
      ]
     }
    ]
   },
   {
    "bounds": "flush",
    "spacing": 0,
    "hconcat": [
     {"data": {"name": "none"}, "mark": "point", "encoding": {}, "width": 6.3, "height": 1},
     {
      "width": 225, "height": 117,
      "title": {"text": "B", "anchor": "start", "frame": "group", "dx": -92.5, "fontSize": 22, "fontWeight": "bold", "baseline": "alphabetic", "offset": -4.3},
      "data": {"name": "freq"},
      "mark": {"type": "circle", "color": "black", "opacity": 1, "size": 24},
      "encoding": {
       "x": {"field": "v", "type": "quantitative", "scale": {"domain": [-95, -70], "nice": false, "zero": false},
             "axis": {"offset": 1.5, "values": [-95,-92.5,-90,-87.5,-85,-82.5,-80,-77.5,-75,-72.5,-70], "labelExpr": "datum.value % 5 == 0 ? '' + datum.value : ''", "labelFlush": true, "tickSize": 7, "labelPadding": 5, "title": "Baseline Vm (mV)", "titleY": 51.3, "titleBaseline": "alphabetic"}},
       "y": {"field": "f", "type": "quantitative", "scale": {"domain": [-0.2, 1.8], "nice": false, "zero": false},
             "axis": {"offset": 4.3, "values": [0,0.3,0.6,0.9,1.2,1.5,1.8], "labelExpr": "indexof([0,0.6,1.2,1.8], datum.value) >= 0 ? '' + datum.value : ''", "tickSize": 7, "labelPadding": 3, "title": ["Firing frequency", "(Hz)"], "titleX": -70, "titleY": 56, "titleBaseline": "alphabetic", "titleLineHeight": 26}}
      }
     },
     {"data": {"name": "none"}, "mark": "point", "encoding": {}, "width": 125.7, "height": 1},
     {
      "width": 225, "height": 116.7,
      "title": {"text": "C", "anchor": "start", "frame": "group", "dx": -93, "fontSize": 22, "fontWeight": "bold", "baseline": "alphabetic", "offset": -5},
      "data": {"name": "amp"},
      "mark": {"type": "circle", "color": "black", "opacity": 1, "size": 24},
      "encoding": {
       "x": {"field": "v", "type": "quantitative", "scale": {"domain": [-95, -70], "nice": false, "zero": false},
             "axis": {"offset": 1.6, "values": [-95,-92.5,-90,-87.5,-85,-82.5,-80,-77.5,-75,-72.5,-70], "labelExpr": "datum.value % 5 == 0 ? '' + datum.value : ''", "labelFlush": true, "labelFlushOffset": 7, "tickSize": 7, "labelPadding": 5, "title": "Baseline Vm (mV)", "titleY": 53.2, "titleBaseline": "alphabetic"}},
       "y": {"field": "a", "type": "quantitative", "scale": {"domain": [0, 140], "nice": false, "zero": false},
             "axis": {"offset": 5, "values": [0,20,40,60,80,100,120,140], "labelExpr": "(datum.value + 20) % 40 == 0 ? '' + datum.value : ''", "tickSize": 7, "labelPadding": 3, "title": ["Peak amplitude", "(mV)"], "titleX": -72, "titleY": 53.3, "titleBaseline": "alphabetic", "titleLineHeight": 35}}
      }
     }
    ]
   }
  ]
 },
 {
  "bounds": "flush",
  "spacing": 0,
  "hconcat": [
   {"data": {"name": "none"}, "mark": "point", "encoding": {}, "width": 25.3, "height": 1},
   {
    "width": 329.4, "height": 205.3,
    "view": {"stroke": "black", "strokeWidth": 2},
    "title": {"text": "D", "anchor": "start", "frame": "group", "dx": -112.8, "fontSize": 22, "fontWeight": "bold", "baseline": "alphabetic", "offset": -28},
    "data": {"name": "contour"},
    "encoding": {
     "x": {"field": "x", "type": "quantitative", "scale": {"domain": [-95, -73], "nice": false, "zero": false},
           "axis": {"domain": false, "values": [-95,-92.5,-90,-87.5,-85,-82.5,-80,-77.5,-75], "labelExpr": "datum.value % 5 == 0 ? '' + datum.value : ''", "tickSize": 11, "labelPadding": 8, "title": "Vm (mV)", "titleX": 161.7, "titleY": 57.7, "titleBaseline": "alphabetic"}},
     "y": {"field": "y", "type": "quantitative", "scale": {"domain": [0, 1.2], "nice": false, "zero": false},
           "axis": {"domain": false, "values": [0,0.1,0.2,0.3,0.4,0.5,0.6,0.7,0.8,0.9,1.0,1.1,1.2], "labelExpr": "round(datum.value*10) % 2 == 0 ? format(datum.value, '.1f') : ''", "tickSize": 13, "labelPadding": 10, "title": "Frequency (Hz)", "titleX": -63.3, "titleY": 106.8, "titleBaseline": "alphabetic"}},
     "order": {"field": "i", "type": "quantitative"},
     "detail": {"field": "p"},
     "fill": {"field": "l", "type": "ordinal", "scale": {"domain": ["0.006","0.013","0.020","0.026","0.033","0.040","0.046"], "range": ["#0a1af5","#4fa3f7","#22c422","#66ff0f","#f2ff1a","#ff5500","#ff0000"]}, "legend": null}
    },
    "layer": [
     {"transform": [{"filter": "datum.l == '0.006'"}], "mark": {"type": "line", "interpolate": "linear-closed", "stroke": "black", "strokeWidth": 1.2}},
     {"transform": [{"filter": "datum.l == '0.013'"}], "mark": {"type": "line", "interpolate": "linear-closed", "stroke": "black", "strokeWidth": 1.2}},
     {"transform": [{"filter": "datum.l == '0.020'"}], "mark": {"type": "line", "interpolate": "linear-closed", "stroke": "black", "strokeWidth": 1.2}},
     {"transform": [{"filter": "datum.l == '0.026'"}], "mark": {"type": "line", "interpolate": "linear-closed", "stroke": "black", "strokeWidth": 1.2}},
     {"transform": [{"filter": "datum.l == '0.033'"}], "mark": {"type": "line", "interpolate": "linear-closed", "stroke": "black", "strokeWidth": 1.2}},
     {"transform": [{"filter": "datum.l == '0.040'"}], "mark": {"type": "line", "interpolate": "linear-closed", "stroke": "black", "strokeWidth": 1.2}},
     {"transform": [{"filter": "datum.l == '0.046'"}], "mark": {"type": "line", "interpolate": "linear-closed", "stroke": "black", "strokeWidth": 1.2}}
    ]
   },
   {"data": {"name": "none"}, "mark": "point", "encoding": {}, "width": 28, "height": 1},
   {
    "width": 49.3, "height": 205.3,
    "title": {"text": ["Probability", "density"], "anchor": "middle", "frame": "group", "dx": 4, "fontSize": 19, "lineHeight": 21, "baseline": "alphabetic", "offset": -48},
    "data": {"name": "levels"},
    "mark": {"type": "rect", "stroke": "black", "strokeWidth": 1},
    "encoding": {
     "y": {"field": "l", "type": "ordinal", "sort": ["0.006","0.013","0.020","0.026","0.033","0.040","0.046"], "scale": {"paddingInner": 0, "paddingOuter": 0.9246, "align": 1},
           "axis": {"orient": "right", "domain": false, "ticks": false, "labelPadding": 8, "labelFontSize": 17, "title": null}},
     "fill": {"field": "l", "type": "ordinal", "scale": {"domain": ["0.006","0.013","0.020","0.026","0.033","0.040","0.046"], "range": ["#0a1af5","#4fa3f7","#22c422","#66ff0f","#f2ff1a","#ff5500","#ff0000"]}, "legend": null}
    }
   }
  ]
 }
]
}
